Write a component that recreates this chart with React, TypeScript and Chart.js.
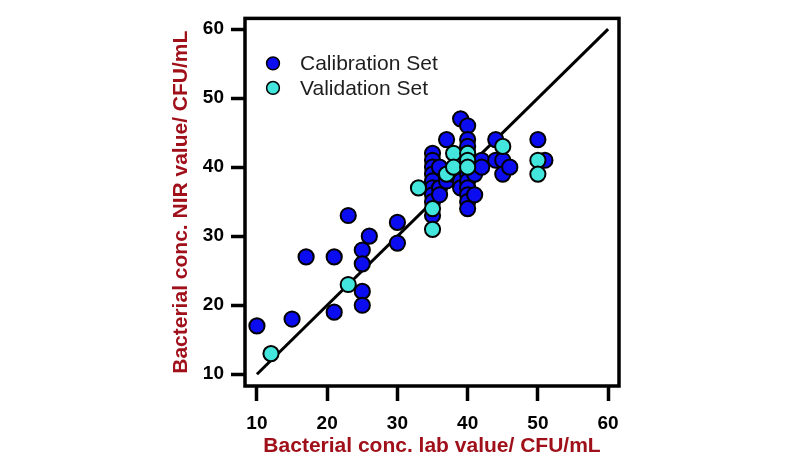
import React, { useEffect, useRef } from "react";
import { Chart, registerables } from "chart.js";

Chart.register(...registerables);

// Calibration set: lab reference value vs NIR prediction (CFU/mL)
const calibrationLab = [
  10, 15, 17, 21, 21, 23, 25, 25, 25, 25, 26, 30, 30,
  35, 35, 35, 35, 35, 35, 35, 35, 35,
  36, 36, 36, 37, 37, 38, 39, 39, 39, 39,
  40, 40, 40, 40, 40, 40, 40, 40, 40, 40, 40,
  41, 41, 42, 42, 44, 44, 45, 45, 46, 50, 51,
];
const calibrationNir = [
  17, 18, 27, 27, 19, 33, 28, 26, 22, 20, 30, 32, 29,
  42, 41, 40, 39, 38, 37, 36, 35, 33,
  40, 37, 36, 44, 38, 39, 47, 39, 38, 37,
  46, 44, 43, 42, 41, 39, 38, 37, 36, 35, 34,
  39, 36, 41, 40, 44, 41, 41, 39, 40, 44, 41,
];

// Validation set
const validationLab = [12, 23, 33, 35, 35, 37, 38, 38, 40, 40, 40, 45, 50, 50];
const validationNir = [13, 23, 37, 34, 31, 39, 42, 40, 42, 41, 40, 43, 41, 39];

// 1:1 reference line
const idealLab = [10, 60];
const idealNir = [10, 60];

const tickValues = [10, 20, 30, 40, 50, 60];
const axisMin = 8.3;
const axisMax = 61.55;

const seriesLabels = ["Calibration Set", "Validation Set"];
const calibrationColor = "#0c0cf0";
const validationColor = "#42e6dc";
const titleColor = "#a0101a";
const fontFamily = "'Liberation Sans', Arial, sans-serif";

const toPoints = (xs: number[], ys: number[]) => xs.map((x, i) => ({ x, y: ys[i] }));

// Heavy rectangular frame around the plotting area
const framePlugin = {
  id: "plotFrame",
  beforeDatasetsDraw(chart: any) {
    const { ctx, chartArea } = chart;
    ctx.save();
    ctx.strokeStyle = "#000";
    ctx.lineWidth = 3.5;
    ctx.strokeRect(chartArea.left, chartArea.top, chartArea.right - chartArea.left, chartArea.bottom - chartArea.top);
    ctx.restore();
  },
};

// Legend drawn inside the top-left corner of the plot
const insetLegendPlugin = {
  id: "insetLegend",
  afterDraw(chart: any) {
    const { ctx, chartArea } = chart;
    const entries = [
      { label: seriesLabels[0], color: calibrationColor },
      { label: seriesLabels[1], color: validationColor },
    ];
    ctx.save();
    entries.forEach((e, i) => {
      const cx = chartArea.left + 28;
      const cy = chartArea.top + 45 + i * 24.5;
      ctx.beginPath();
      ctx.arc(cx, cy, 6.4, 0, Math.PI * 2);
      ctx.fillStyle = e.color;
      ctx.fill();
      ctx.lineWidth = 1.5;
      ctx.strokeStyle = "#000";
      ctx.stroke();
      ctx.fillStyle = "#1e1e1e";
      ctx.font = `21px ${fontFamily}`;
      ctx.textAlign = "left";
      ctx.textBaseline = "middle";
      ctx.fillText(e.label, chartArea.left + 55, cy + 1);
    });
    ctx.restore();
  },
};

const fixedTicks = (scale: any) => {
  scale.ticks = tickValues.map((v) => ({ value: v }));
};

export default function App() {
  const canvasRef = useRef<HTMLCanvasElement | null>(null);

  useEffect(() => {
    const canvas = canvasRef.current;
    if (!canvas) return;
    const chart = new Chart(canvas, {
      type: "scatter",
      data: {
        datasets: [
          {
            label: seriesLabels[1],
            data: toPoints(validationLab, validationNir),
            backgroundColor: validationColor,
            borderColor: "#000",
            borderWidth: 2,
            pointRadius: 7.6,
            order: 0,
          },
          {
            label: seriesLabels[0],
            data: toPoints(calibrationLab, calibrationNir),
            backgroundColor: calibrationColor,
            borderColor: "#000",
            borderWidth: 2,
            pointRadius: 7.6,
            order: 1,
          },
          {
            label: "1:1",
            data: toPoints(idealLab, idealNir),
            showLine: true,
            borderColor: "#000",
            borderWidth: 3,
            pointRadius: 0,
            order: 2,
          },
        ],
      },
      options: {
        responsive: false,
        animation: false,
        events: [],
        layout: { padding: { left: 165, top: 11, right: 181, bottom: 0 } },
        plugins: {
          legend: { display: false },
          tooltip: { enabled: false },
        },
        scales: {
          x: {
            type: "linear",
            position: "bottom",
            min: axisMin,
            max: axisMax,
            afterBuildTicks: fixedTicks,
            afterFit: (scale: any) => {
              scale.height = 75;
            },
            border: { display: false },
            grid: {
              drawOnChartArea: false,
              drawTicks: true,
              tickLength: 15,
              tickWidth: 3.5,
              tickColor: "#000",
            },
            ticks: {
              padding: 11,
              color: "#000",
              font: { family: fontFamily, size: 19, weight: "bold" },
            },
            title: {
              display: true,
              text: "Bacterial conc. lab value/ CFU/mL",
              color: titleColor,
              padding: { top: 0, bottom: 2 },
              font: { family: fontFamily, size: 21, weight: "bold" },
            },
          },
          y: {
            type: "linear",
            position: "left",
            min: axisMin,
            max: axisMax,
            afterBuildTicks: fixedTicks,
            afterFit: (scale: any) => {
              scale.width = 80;
            },
            border: { display: false },
            grid: {
              drawOnChartArea: false,
              drawTicks: true,
              tickLength: 14,
              tickWidth: 3.5,
              tickColor: "#000",
            },
            ticks: {
              padding: 7,
              color: "#000",
              font: { family: fontFamily, size: 19, weight: "bold" },
            },
            title: {
              display: true,
              text: "Bacterial conc. NIR value/ CFU/mL",
              color: titleColor,
              padding: { top: 4, bottom: 0 },
              font: { family: fontFamily, size: 21, weight: "bold" },
            },
          },
        },
      },
      plugins: [framePlugin, insetLegendPlugin],
    });
    return () => chart.destroy();
  }, []);

  return (
    <div style={{ position: "absolute", left: 0, top: 0, width: 800, height: 461, background: "#fff" }}>
      <canvas ref={canvasRef} width={800} height={461} style={{ display: "block" }} />
    </div>
  );
}
